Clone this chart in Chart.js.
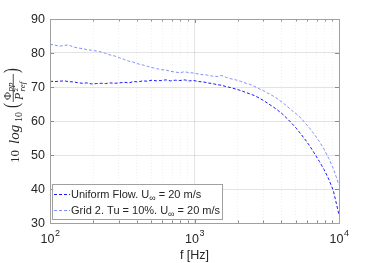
<!DOCTYPE html>
<html>
<head>
<meta charset="utf-8">
<script src="https://cdn.jsdelivr.net/npm/chart.js@4.4.1/dist/chart.umd.min.js"></script>
<style>
  html, body { margin: 0; padding: 0; background: #fff; }
  #wrap { width: 374px; height: 263px; }
</style>
</head>
<body>
<div id="wrap"><canvas id="psdChart"></canvas></div>
<script>
// Frequencies (Hz) and spectra (dB)
const freqHz = [100, 108, 116, 125, 134, 144, 155, 167, 180, 194, 209, 225, 242, 261, 281, 303, 326, 351, 378, 407,
  438, 472, 508, 547, 589, 634, 683, 736, 792, 853, 919, 990, 1066, 1148, 1236, 1331, 1433, 1543, 1662, 1790,
  1928, 2076, 2236, 2408, 2593, 2793, 3008, 3239, 3488, 3757, 4046, 4357, 4692, 5053, 5442, 5861, 6312, 6797,
  7320, 7883, 8490, 9143, 9846, 10000]
const uniformDb = [71.7, 71.6, 71.7, 71.8, 71.6, 71.5, 71.3, 71.1, 71.2, 70.9, 71.0, 71.1, 71.0, 71.2, 71.1, 71.2, 71.4, 71.2, 71.6, 71.5,
  71.8, 71.7, 72.0, 71.8, 71.9, 72.1, 71.8, 72.0, 71.9, 72.1, 71.8, 71.9, 71.6, 71.5, 71.2, 71.0, 70.7, 70.5, 70.1, 69.8,
  69.4, 69.0, 68.5, 68.0, 67.5, 66.8, 66.0, 65.1, 64.2, 63.2, 62.1, 60.8, 59.4, 57.9, 56.2, 54.4, 52.5, 50.3,
  48.1, 45.7, 42.9, 39.5, 33.6, 32.4]
const gridDb = [82.6, 82.3, 82.0, 82.2, 82.4, 81.8, 81.5, 81.3, 81.0, 80.8, 80.6, 80.3, 79.9, 79.4, 79.1, 78.6, 78.1, 77.6, 77.3, 76.8,
  76.5, 76.1, 75.7, 75.4, 75.1, 75.0, 74.6, 74.4, 74.2, 74.5, 74.2, 74.1, 73.8, 73.6, 73.5, 73.2, 73.1, 73.4, 72.8, 72.4,
  72.1, 71.7, 71.2, 70.8, 70.2, 69.5, 68.9, 68.1, 67.4, 66.5, 65.5, 64.4, 63.2, 62.1, 60.9, 59.3, 57.7, 55.9,
  53.9, 51.7, 49.0, 46.0, 42.0, 41.2]

const xTicks = [100, 200, 300, 400, 500, 600, 700, 800, 900, 1000, 2000, 3000, 4000, 5000, 6000, 7000, 8000, 9000, 10000]
const xDecades = [100, 1000, 10000]
const yTicks = [30, 40, 50, 60, 70, 80, 90]

// legend text split as [before, subscript, after]
const legendUniform = ["Uniform Flow. U", "\u221E", " = 20 m/s"]
const legendGrid = ["Grid 2. Tu = 10%. U", "\u221E", " = 20 m/s"]

const uniformColor = "rgb(25, 25, 255)"
const gridColor = "rgb(125, 145, 255)"
const axisColor = "#a0a0a0"
const textColor = "#262626"

function toPoints(ys) {
  return freqHz.map((f, i) => ({ x: f, y: ys[i] }))
}

// draws text + subscript + text, returns end x
function drawSubText(ctx, parts, x, y, size) {
  ctx.font = size + "px 'Liberation Sans', Arial, sans-serif"
  ctx.fillText(parts[0], x, y)
  x += ctx.measureText(parts[0]).width
  ctx.font = (size - 2) + "px 'Liberation Sans', Arial, sans-serif"
  ctx.fillText(parts[1], x, y + 4)
  x += ctx.measureText(parts[1]).width
  ctx.font = size + "px 'Liberation Sans', Arial, sans-serif"
  ctx.fillText(parts[2], x, y)
  return x + ctx.measureText(parts[2]).width
}

function drawYLabel(ctx) {
  const serif = "'Liberation Serif', 'DejaVu Serif', serif"
  ctx.save()
  ctx.translate(19, 163)
  ctx.rotate(-Math.PI / 2)
  ctx.fillStyle = textColor
  ctx.textBaseline = "alphabetic"
  ctx.textAlign = "left"
  ctx.font = "13px " + serif
  ctx.fillText("10", 0, 0)
  ctx.font = "italic 15px " + serif
  ctx.fillText("log", 19, 0)
  ctx.font = "10px " + serif
  ctx.fillText("10", 41, 2.5)
  // big parentheses around the fraction
  ctx.save()
  ctx.font = "21px " + serif
  ctx.translate(55, -1)
  ctx.scale(0.7, 1)
  ctx.fillText("(", 0, 0)
  ctx.restore()
  // numerator  Φ_pp
  ctx.font = "11px " + serif
  ctx.fillText("\u03A6", 63, -8)
  ctx.font = "italic 9px " + serif
  ctx.fillText("pp", 71.5, -6)
  // fraction bar
  ctx.fillRect(61, -6.2, 28, 0.8)
  // denominator  P^2_ref
  ctx.font = "italic 12px " + serif
  ctx.fillText("P", 63, 4)
  ctx.font = "7px " + serif
  ctx.fillText("2", 71.5, -1)
  ctx.font = "italic 9px " + serif
  ctx.fillText("ref", 71.5, 6)
  ctx.save()
  ctx.font = "21px " + serif
  ctx.translate(90, -1)
  ctx.scale(0.7, 1)
  ctx.fillText(")", 0, 0)
  ctx.restore()
  ctx.restore()
}

const matlabAxes = {
  id: "matlabAxes",
  afterDraw(chart) {
    const ctx = chart.ctx
    const area = chart.chartArea
    const xs = chart.scales.x
    const ys = chart.scales.y
    ctx.save()

    // inward tick marks
    ctx.strokeStyle = "#8c8c8c"
    ctx.lineWidth = 1
    ctx.beginPath()
    xTicks.forEach((v) => {
      const px = Math.round(xs.getPixelForValue(v)) + 0.5
      const len = xDecades.includes(v) ? 4 : 2.5
      ctx.moveTo(px, area.bottom)
      ctx.lineTo(px, area.bottom - len)
      ctx.moveTo(px, area.top)
      ctx.lineTo(px, area.top + len)
    })
    yTicks.forEach((v) => {
      const py = Math.round(ys.getPixelForValue(v)) + 0.5
      ctx.moveTo(area.left, py)
      ctx.lineTo(area.left + 4, py)
      ctx.moveTo(area.right, py)
      ctx.lineTo(area.right - 4, py)
    })
    ctx.stroke()

    // box
    ctx.strokeStyle = axisColor
    ctx.strokeRect(Math.round(area.left) + 0.5, Math.round(area.top) + 0.5,
      Math.round(area.right - area.left), Math.round(area.bottom - area.top))

    // y tick labels
    ctx.fillStyle = textColor
    ctx.font = "12.5px 'Liberation Sans', Arial, sans-serif"
    ctx.textAlign = "right"
    ctx.textBaseline = "middle"
    yTicks.forEach((v) => {
      ctx.fillText(String(v), area.left - 5, ys.getPixelForValue(v) + 0.5)
    })

    // x tick labels 10^n
    ctx.textAlign = "left"
    ctx.textBaseline = "alphabetic"
    xDecades.forEach((v) => {
      const exp = String(Math.round(Math.log10(v)))
      ctx.font = "12.5px 'Liberation Sans', Arial, sans-serif"
      const wBase = ctx.measureText("10").width
      ctx.font = "9px 'Liberation Sans', Arial, sans-serif"
      const wExp = ctx.measureText(exp).width
      const x0 = xs.getPixelForValue(v) - (wBase + wExp) / 2
      ctx.font = "12.5px 'Liberation Sans', Arial, sans-serif"
      ctx.fillText("10", x0, area.bottom + 20)
      ctx.font = "9px 'Liberation Sans', Arial, sans-serif"
      ctx.fillText(exp, x0 + wBase + 0.5, area.bottom + 13)
    })

    // x axis title
    ctx.font = "12.5px 'Liberation Sans', Arial, sans-serif"
    ctx.textAlign = "center"
    ctx.fillText("f [Hz]", (area.left + area.right) / 2, 259)

    drawYLabel(ctx)

    // legend
    const lx = 52.5, ly = 184.5, lw = 170, lh = 35
    ctx.fillStyle = "#fff"
    ctx.fillRect(lx, ly, lw, lh)
    ctx.strokeStyle = axisColor
    ctx.strokeRect(lx, ly, lw, lh)
    const rows = [
      { parts: legendUniform, color: uniformColor, y: 194 },
      { parts: legendGrid, color: gridColor, y: 210 },
    ]
    rows.forEach((r) => {
      ctx.strokeStyle = r.color
      ctx.setLineDash([3, 2])
      ctx.beginPath()
      ctx.moveTo(54, r.y + 0.5)
      ctx.lineTo(70, r.y + 0.5)
      ctx.stroke()
      ctx.setLineDash([])
      ctx.fillStyle = textColor
      ctx.textAlign = "left"
      ctx.textBaseline = "middle"
      drawSubText(ctx, r.parts, 71, r.y + 0.5, 11)
    })
    ctx.restore()
  },
}

const ctx = document.getElementById("psdChart")
new Chart(ctx, {
  type: "line",
  data: {
    datasets: [
      {
        label: legendUniform.join(""),
        data: toPoints(uniformDb),
        borderColor: uniformColor,
        borderWidth: 1,
        borderDash: [3, 2],
        pointRadius: 0,
        tension: 0,
      },
      {
        label: legendGrid.join(""),
        data: toPoints(gridDb),
        borderColor: gridColor,
        borderWidth: 1,
        borderDash: [3, 2],
        pointRadius: 0,
        tension: 0,
      },
    ],
  },
  options: {
    responsive: true,
    maintainAspectRatio: false,
    animation: false,
    devicePixelRatio: 1,
    layout: { padding: { left: 0, top: 19, right: 35, bottom: 0 } },
    plugins: { legend: { display: false }, tooltip: { enabled: false } },
    scales: {
      x: {
        type: "logarithmic",
        min: 100,
        max: 10000,
        afterBuildTicks: (scale) => {
          scale.ticks = xTicks.map((v) => ({ value: v, major: xDecades.includes(v) }))
        },
        afterFit: (scale) => { scale.height = 40 },
        ticks: { display: false },
        grid: {
          drawTicks: false,
          color: (c) => (c.tick && xDecades.includes(c.tick.value) ? "rgba(0,0,0,0.11)" : "rgba(0,0,0,0.06)"),
        },
        border: {
          display: false,
          dash: (c) => (c.tick && xDecades.includes(c.tick.value) ? [] : [1, 2]),
        },
      },
      y: {
        min: 30,
        max: 90,
        afterBuildTicks: (scale) => {
          scale.ticks = yTicks.map((v) => ({ value: v }))
        },
        afterFit: (scale) => { scale.width = 50 },
        ticks: { display: false },
        grid: { drawTicks: false, color: "rgba(0,0,0,0.11)" },
        border: { display: false },
      },
    },
  },
  plugins: [matlabAxes],
})
</script>
</body>
</html>
